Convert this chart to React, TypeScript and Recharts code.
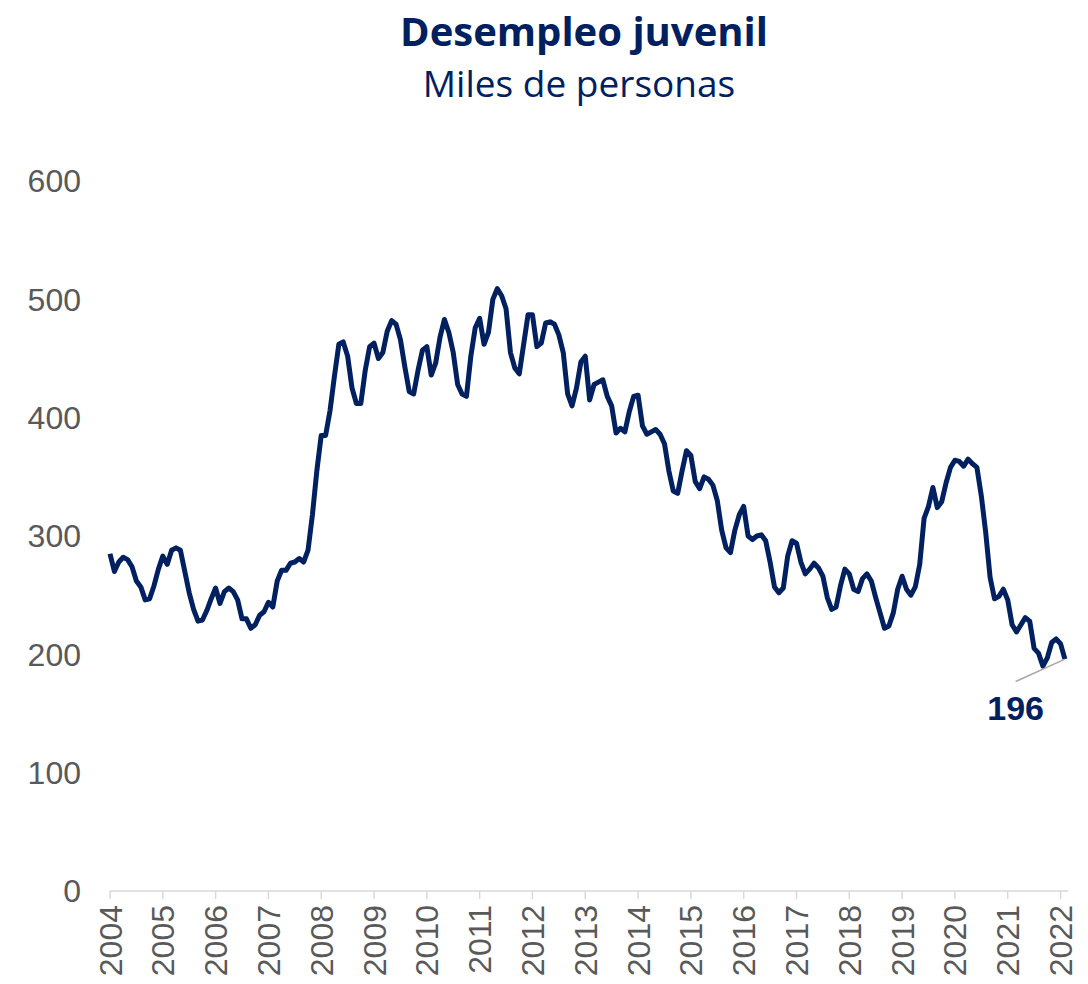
import { Line, LineChart, ReferenceDot, ReferenceLine, XAxis, YAxis } from "recharts";

// Desempleo juvenil, miles de personas, serie mensual ene-2004 .. feb-2022
const years = [
  "2004", "2005", "2006", "2007", "2008", "2009", "2010", "2011", "2012", "2013",
  "2014", "2015", "2016", "2017", "2018", "2019", "2020", "2021", "2022"
];

const m2004 = [285, 270, 278, 282, 280, 274, 262, 257, 246, 247, 258, 272];
const m2005 = [283, 276, 288, 290, 288, 270, 252, 238, 228, 229, 237, 247];
const m2006 = [256, 243, 253, 256, 253, 246, 230, 230, 222, 225, 233, 236];
const m2007 = [244, 240, 262, 271, 271, 277, 278, 281, 278, 288, 318, 355];
const m2008 = [385, 385, 406, 435, 462, 464, 452, 425, 412, 412, 440, 460];
const m2009 = [463, 450, 455, 473, 482, 479, 466, 443, 422, 420, 440, 457];
const m2010 = [460, 436, 446, 468, 483, 472, 455, 428, 420, 418, 452, 476];
const m2011 = [484, 462, 472, 500, 509, 503, 492, 455, 442, 437, 462, 487];
const m2012 = [487, 460, 463, 480, 481, 479, 470, 455, 420, 410, 425, 447];
const m2013 = [452, 415, 428, 430, 432, 418, 410, 387, 391, 388, 405, 418];
const m2014 = [419, 393, 386, 388, 390, 386, 378, 355, 338, 336, 355, 372];
const m2015 = [368, 346, 340, 350, 348, 343, 330, 305, 290, 286, 305, 318];
const m2016 = [325, 300, 297, 300, 301, 296, 278, 257, 252, 256, 283, 296];
const m2017 = [294, 278, 268, 272, 277, 273, 266, 248, 238, 240, 258, 272];
const m2018 = [268, 255, 253, 264, 268, 262, 248, 235, 222, 224, 235, 255];
const m2019 = [266, 255, 250, 257, 276, 315, 325, 341, 324, 329, 345, 358];
const m2020 = [364, 363, 359, 365, 361, 358, 334, 303, 265, 247, 249, 255];
const m2021 = [246, 225, 219, 225, 231, 228, 205, 201, 190, 197, 210, 213];
const m2022 = [209, 196];

const yTicks = [0, 100, 200, 300, 400, 500, 600];

const monthly = [
  ...m2004, ...m2005, ...m2006, ...m2007, ...m2008, ...m2009, ...m2010,
  ...m2011, ...m2012, ...m2013, ...m2014, ...m2015, ...m2016, ...m2017,
  ...m2018, ...m2019, ...m2020, ...m2021, ...m2022
];

const data = monthly.map((v, i) => ({ i, v }));
const yearTicks = years.map((_, k) => k * 12);
const last = data[data.length - 1];

const NAVY = "#002060";
const GREY = "#595959";

function YearTick({ x, y, payload }: any) {
  const label = years[Math.round(payload.value / 12)];
  return (
    <text
      x={x}
      y={y}
      dy="0.36em"
      transform={`rotate(-90 ${x} ${y})`}
      textAnchor="end"
      fill={GREY}
      fontSize={32}
      fontFamily="'Liberation Sans', Arial, sans-serif"
    >
      {label}
    </text>
  );
}

export default function App() {
  return (
    <div style={{ position: "absolute", left: 0, top: 0, width: 1088, height: 984, background: "#fff" }}>
      <div
        style={{
          position: "absolute",
          left: 584,
          top: 11,
          transform: "translateX(-50%)",
          whiteSpace: "nowrap",
          fontFamily: "'Open Sans', sans-serif",
          fontWeight: 700,
          fontSize: 40,
          lineHeight: 1,
          color: NAVY
        }}
      >
        Desempleo juvenil
      </div>
      <div
        style={{
          position: "absolute",
          left: 579,
          top: 64,
          transform: "translateX(-50%)",
          whiteSpace: "nowrap",
          fontFamily: "'Open Sans', sans-serif",
          fontSize: 37,
          lineHeight: 1,
          color: NAVY
        }}
      >
        Miles de personas
      </div>
      <LineChart width={1088} height={984} data={data} margin={{ top: 181, right: 20, bottom: 0, left: 0 }}>
        <XAxis
          dataKey="i"
          type="number"
          domain={[0, 217.7]}
          ticks={yearTicks}
          interval={0}
          height={93}
          tickSize={8}
          tickMargin={6}
          axisLine={{ stroke: "#d9d9d9", strokeWidth: 1.5 }}
          tickLine={{ stroke: "#d9d9d9", strokeWidth: 1.5 }}
          tick={<YearTick />}
        />
        <YAxis
          type="number"
          domain={[0, 600]}
          ticks={yTicks}
          interval={0}
          width={110}
          axisLine={false}
          tickLine={false}
          tickSize={0}
          tickMargin={29}
          tick={{ fill: GREY, fontSize: 32, fontFamily: "'Liberation Sans', Arial, sans-serif" }}
        />
        <Line
          type="linear"
          dataKey="v"
          stroke={NAVY}
          strokeWidth={5}
          strokeLinejoin="round"
          dot={false}
          isAnimationActive={false}
        />
        <ReferenceLine
          segment={[{ x: 205.8, y: 177 }, { x: last.i, y: last.v }]}
          stroke="#a6a6a6"
          strokeWidth={1.5}
        />
        <ReferenceDot
          x={205.8}
          y={155}
          r={0}
          stroke="none"
          label={{
            value: String(last.v),
            position: "center",
            fill: NAVY,
            fontSize: 34,
            fontWeight: 700,
            fontFamily: "'Liberation Sans', Arial, sans-serif"
          }}
        />
      </LineChart>
    </div>
  );
}
